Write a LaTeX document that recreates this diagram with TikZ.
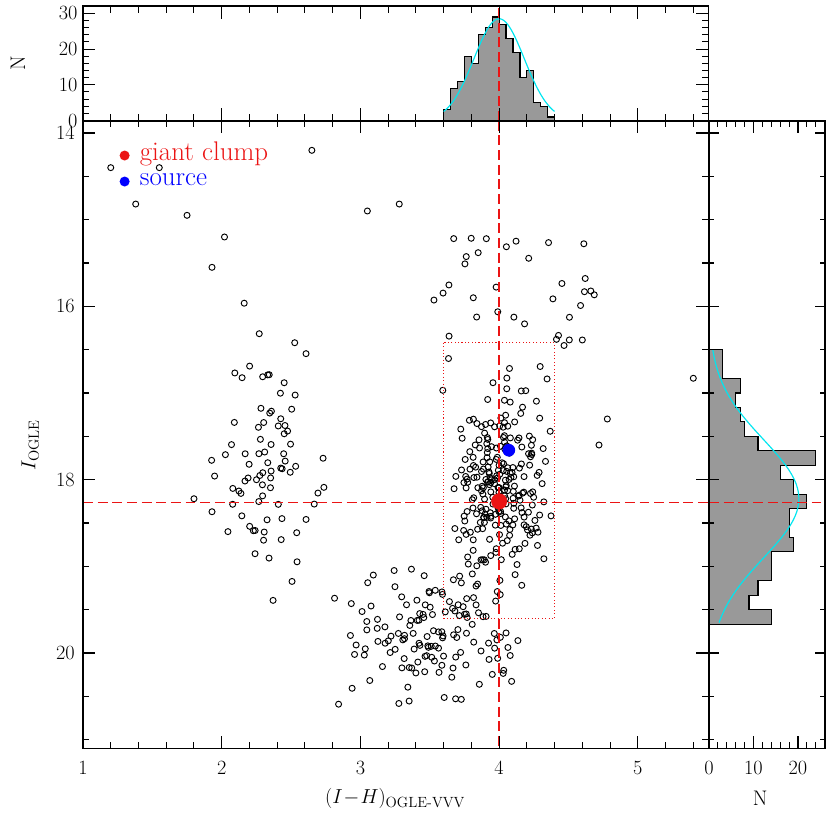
\documentclass[tikz,border=0pt]{standalone}
\usepackage{amsmath}
\usetikzlibrary{calc}
\definecolor{histgray}{gray}{0.6}
\definecolor{cutred}{RGB}{235,20,20}
\definecolor{fitcyan}{RGB}{0,230,240}
\tikzset{
  frame/.style={line width=1.3pt},
  tk/.style={line width=0.9pt},
  pt/.style={line width=0.8pt},
  cutdash/.style={color=cutred, line width=1.4pt, dash pattern=on 8.5pt off 4pt},
  lab/.style={font=\fontsize{18}{18}\selectfont},
}
\begin{document}
\begin{tikzpicture}[x=0.03cm, y=-0.03cm]
    \useasboundingbox (0,0) rectangle (830,819);
    % Main panel: colour vs magnitude
    \begin{scope}[shift={(-55.7,-1080.4)}, x=4.161cm, y=-2.600cm]
      \pgfmathsetseed{11}
      % Clump stars
      \foreach \i in {1,...,240}{
        \pgfmathsetmacro\cx{4.0+0.2*(rand+rand)}
        \pgfmathsetmacro\cy{18.1+0.48*(rand+rand+rand)}
        \draw[pt] (\cx,\cy) circle[radius=0.09cm];
      }
      % Lower blob
      \foreach \i in {1,...,140}{
        \pgfmathsetmacro\cx{3.5+0.3*(rand+rand+rand)}
        \pgfmathsetmacro\cy{19.8+0.36*(rand+rand+rand)}
        \draw[pt] (\cx,\cy) circle[radius=0.09cm];
      }
      % Left branch
      \foreach \i in {1,...,80}{
        \pgfmathsetmacro\cx{2.3+0.2*(rand+rand+rand)}
        \pgfmathsetmacro\cy{17.8+0.7*(rand+rand+rand)}
        \draw[pt] (\cx,\cy) circle[radius=0.09cm];
      }
      % Bright scattered stars
      \foreach \i in {1,...,40}{
        \pgfmathsetmacro\cx{4.1+0.6*rand}
        \pgfmathsetmacro\cy{16.1+0.9*rand}
        \draw[pt] (\cx,\cy) circle[radius=0.09cm];
      }
      \foreach \cx/\cy in {1.2/14.4,1.38/14.82,1.75/14.95,1.55/14.4,2.65/14.2,3.05/14.9,3.28/14.82,
                           2.02/15.2,1.93/15.55,5.4/16.83,4.78/17.3,4.72/17.6,1.8/18.22,1.93/18.37}
        \draw[pt] (\cx,\cy) circle[radius=0.09cm];
      % Clump box and cuts
      \draw[cutred, line width=0.9pt, dotted] (3.6,16.42) rectangle (4.4,19.6);
      \draw[cutdash] (4.0,13.86) -- (4.0,21.1);
      \draw[cutdash] (1,18.262) -- (5.51,18.262);
      \fill[cutred] (4.0,18.25) circle[radius=0.24cm];
      \fill[blue] (4.07,17.66) circle[radius=0.19cm];
      % Legend
      \fill[cutred] (1.3,14.26) circle[radius=0.15cm];
      \node[cutred, anchor=west, font=\fontsize{23}{23}\selectfont] (giantlab) at (1.38,14.24) {giant clump};
      \fill[blue] (1.3,14.56) circle[radius=0.15cm];
      \node[blue, anchor=west, font=\fontsize{23}{23}\selectfont] (srclab) at (1.38,14.54) {source};
      % Frame and ticks
      \draw[frame] (1,13.86) rectangle (5.51,21.1);
      \foreach \x in {1,2,3,4,5}{
        \draw[tk] (\x,21.1) -- ++(0,-0.14);
        \draw[tk] (\x,13.86) -- ++(0,0.14);
        \node[lab, below] (xl\x) at (\x,21.2) {$\x$};
      }
      \foreach \x in {1.2,1.4,...,5.4}{
        \draw[tk] (\x,21.1) -- ++(0,-0.07);
        \draw[tk] (\x,13.86) -- ++(0,0.07);
      }
      \foreach \y in {14,16,18,20}{
        \draw[tk] (1,\y) -- ++(0.09,0);
        \draw[tk] (5.51,\y) -- ++(-0.09,0);
        \node[lab, left] (yl\y) at (0.97,\y) {$\y$};
      }
      \foreach \y in {14.5,15,...,21}{
        \draw[tk] (1,\y) -- ++(0.045,0);
        \draw[tk] (5.51,\y) -- ++(-0.045,0);
      }
      \node[lab] (xtitle) at (3.25,21.68) {$(I\!-\!H)_{\text{OGLE-VVV}}$};
      \node[lab, rotate=90] (ytitle) at (0.62,17.6) {$I_{\text{OGLE}}$};
    \end{scope}
    % Top histogram
    \begin{scope}[shift={(-55.7,120.5)}, x=4.161cm, y=0.1071cm]
      \draw[line width=1pt, fill=histgray]
        (3.60,0) |- (3.65,3) |- (3.70,9) |- (3.75,11) |- (3.80,18) |- (3.85,16) |- (3.90,24)
        |- (3.95,26) |- (4.00,29) |- (4.05,27) |- (4.10,23) |- (4.15,19) |- (4.20,12) |- (4.25,14)
        |- (4.30,5) |- (4.35,4) |- (4.40,1) |- (4.45,0) -- cycle;
      \draw[fitcyan, line width=1pt] plot[domain=3.6:4.4, samples=60] (\x,{28.5*exp(-(\x-4)^2/(2*0.033))});
      \draw[cutdash] (4.0,0) -- (4.0,32);
      \draw[frame] (1,0) rectangle (5.51,32);
      \foreach \x in {1,2,...,5}{
        \draw[tk] (\x,0) -- ++(0,3.5);
        \draw[tk] (\x,32) -- ++(0,-3.5);
      }
      \foreach \x in {1.2,1.4,...,5.4}{
        \draw[tk] (\x,0) -- ++(0,1.8);
        \draw[tk] (\x,32) -- ++(0,-1.8);
      }
      \foreach \n in {0,10,20,30}{
        \draw[tk] (1,\n) -- ++(0.09,0);
        \draw[tk] (5.51,\n) -- ++(-0.09,0);
        \node[lab, left] (nl\n) at (0.99,\n) {$\n$};
      }
      \foreach \n in {2,4,...,30}{
        \draw[tk] (1,\n) -- ++(0.045,0);
        \draw[tk] (5.51,\n) -- ++(-0.045,0);
      }
      \node[lab, rotate=90] (ntop) at (0.53,16) {N};
    \end{scope}
    % Right histogram
    \begin{scope}[shift={(709,-1080.4)}, x=0.1335cm, y=-2.600cm]
      \draw[line width=1pt, fill=histgray]
        (0,16.5) -| (3,16.833) -| (7,17.0) -| (6,17.167) -| (7,17.333) -| (8,17.5) -| (11,17.667)
        -| (24,17.833) -| (16,18.0) -| (19,18.167) -| (22,18.333) -| (18,18.667) -| (19,18.833)
        -| (14,19.167) -| (11,19.333) -| (9,19.5) -| (14,19.667) -- (0,19.667) -- cycle;
      \draw[fitcyan, line width=1pt] plot[variable=\t, domain=16.5:19.65, samples=60]
        ({20.2*exp(-(\t-18.22)^2/(2*0.466))},\t);
      \draw[cutdash] (0,18.262) -- (26.07,18.262);
      \draw[frame] (0,13.86) rectangle (26.07,21.1);
      \foreach \y in {14,16,18,20}{
        \draw[tk] (0,\y) -- ++(2.2,0);
        \draw[tk] (26.07,\y) -- ++(-2.2,0);
      }
      \foreach \y in {14.5,15,...,21}{
        \draw[tk] (0,\y) -- ++(1.1,0);
        \draw[tk] (26.07,\y) -- ++(-1.1,0);
      }
      \foreach \n in {0,10,20}{
        \draw[tk] (\n,21.1) -- ++(0,-0.14);
        \draw[tk] (\n,13.86) -- ++(0,0.14);
        \node[lab, below] (rl\n) at (\n,21.2) {$\n$};
      }
      \foreach \n in {2,4,...,24}{
        \draw[tk] (\n,21.1) -- ++(0,-0.07);
        \draw[tk] (\n,13.86) -- ++(0,0.07);
      }
      \node[lab] (nright) at (11.5,21.68) {N};
    \end{scope}
\end{tikzpicture}
\end{document}
